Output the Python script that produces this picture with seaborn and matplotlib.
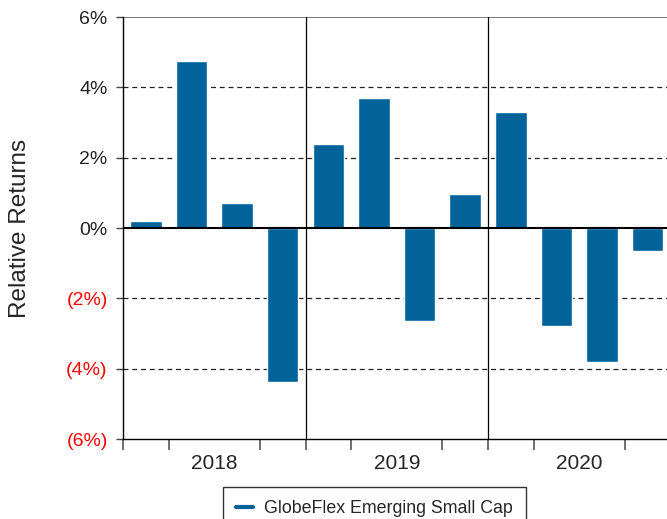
"""Quarterly relative returns bar chart."""
import matplotlib.pyplot as plt
import matplotlib.lines as mlines
import pandas as pd
import seaborn as sns

BAR_COLOR = "#02639b"

years = ["2018", "2019", "2020"]
returns = [0.20, 4.75, 0.71, -4.38,
           2.39, 3.70, -2.64, 0.97,
           3.30, -2.79, -3.80, -0.65]
y_ticks = [-6, -4, -2, 0, 2, 4, 6]
y_tick_labels = ["(6%)", "(4%)", "(2%)", "0%", "2%", "4%", "6%"]
series_name = "GlobeFlex Emerging Small Cap"

sns.set_style("white")
plt.rcParams["font.family"] = ["Liberation Sans", "DejaVu Sans"]

df = pd.DataFrame({
    "period": [f"{y} {q}" for y in years for q in ["Q1", "Q2", "Q3", "Q4"]],
    "ret": returns,
})

fig = plt.figure(figsize=(6.67, 5.19), dpi=100)
ax = fig.add_axes([0.1844, 0.1541, 0.8209, 0.8131])

sns.barplot(data=df, x="period", y="ret", color=BAR_COLOR, width=0.69,
            saturation=1, ax=ax, zorder=3)

ax.set_xlim(-0.5, 11.5)
ax.set_ylim(-6, 6)

# gridlines
for y in [-4, -2, 2, 4]:
    ax.axhline(y, color="#222222", lw=0.9, ls=(0, (4, 3)), zorder=1)
ax.axhline(6, color="#777777", lw=1.4, zorder=1)
ax.axhline(0, color="black", lw=1.5, zorder=4)
for x in [3.5, 7.5]:
    ax.axvline(x, color="black", lw=0.9, zorder=2)

# y axis
ax.set_yticks(y_ticks)
ax.set_yticklabels(y_tick_labels, fontsize=14)
for lbl, v in zip(ax.get_yticklabels(), y_ticks):
    lbl.set_color("red" if v < 0 else "#222222")
ax.tick_params(axis="y", length=5, width=1, color="#444444", pad=6, left=True)
ax.set_ylabel("Relative Returns", fontsize=17.5)
ax.yaxis.set_label_coords(-0.168, 0.5)

# x axis: years as labels, quarter boundaries as ticks
ax.set_xticks([1.5, 5.5, 9.5])
ax.set_xticklabels(years, fontsize=15)
ax.set_xticks([i - 0.5 for i in range(13)], minor=True)
ax.tick_params(axis="x", which="major", length=0, pad=11)
ax.tick_params(axis="x", which="minor", length=8, width=1.2, color="#555555",
               bottom=True)
ax.set_xlabel("")

for side in ["top", "right"]:
    ax.spines[side].set_visible(False)
ax.spines["left"].set_color("black")
ax.spines["left"].set_linewidth(1)
ax.spines["bottom"].set_color("black")
ax.spines["bottom"].set_linewidth(1)

handle = mlines.Line2D([], [], color=BAR_COLOR, lw=3)
leg = fig.legend([handle], [series_name], loc="upper center",
                 bbox_to_anchor=(0.561, 0.0617), borderaxespad=0,
                 frameon=True, fancybox=False, fontsize=12.8,
                 handlelength=0.95, handletextpad=0.6, borderpad=0.75)
leg.get_frame().set_edgecolor("black")
leg.get_frame().set_linewidth(1)

fig.savefig("out.png", dpi=100)
